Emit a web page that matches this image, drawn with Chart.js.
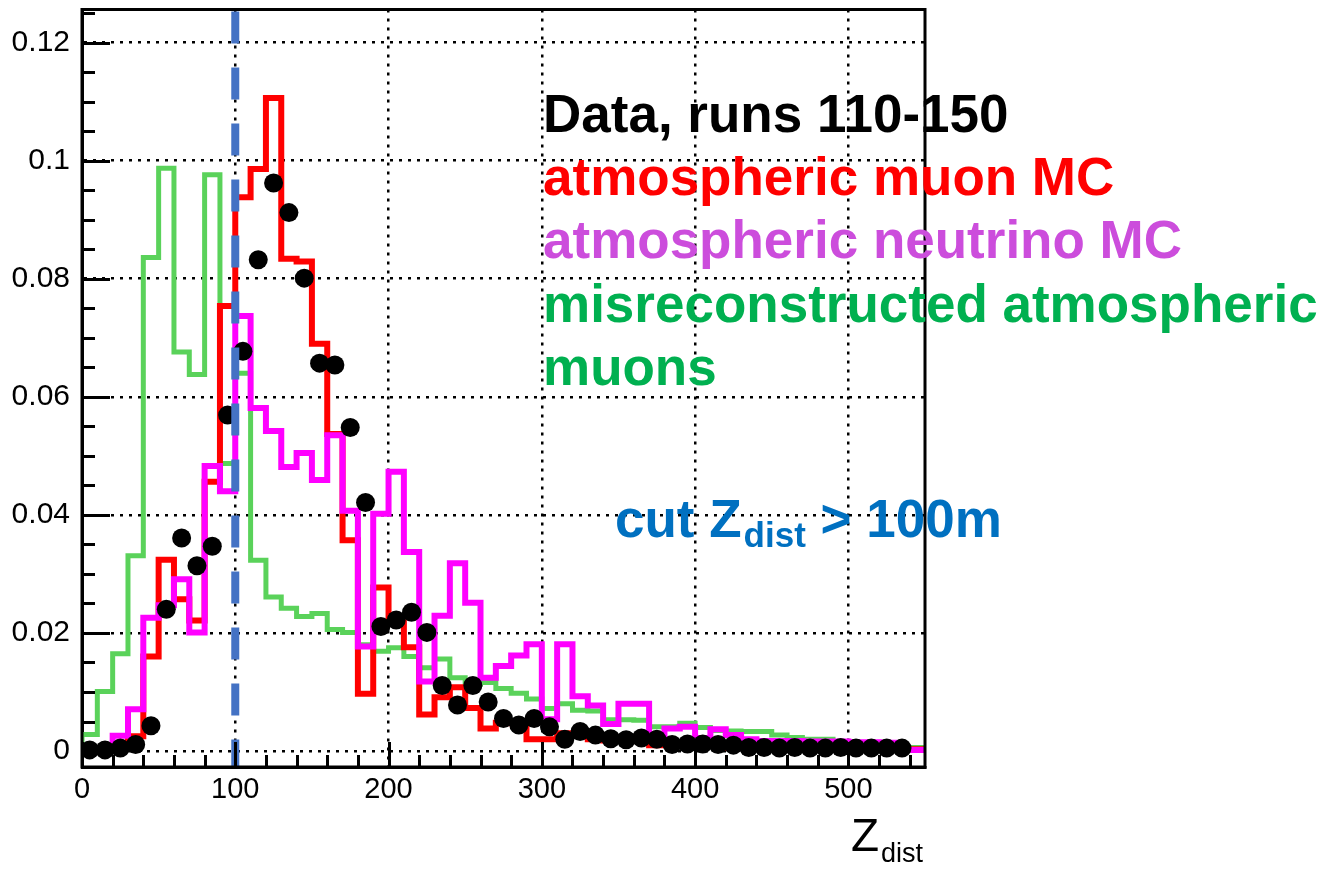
<!DOCTYPE html>
<html>
<head>
<meta charset="utf-8">
<title>Z_dist</title>
<script src="https://cdn.jsdelivr.net/npm/chart.js@4.4.1/dist/chart.umd.min.js"></script>
<style>
  html, body { margin: 0; padding: 0; background: #ffffff; }
  #zdist { display: block; }
</style>
</head>
<body>
<canvas id="zdist" width="1327" height="869"></canvas>
<script>
// histogram bin edges, Z_dist in m
const zEdges = [0, 10, 20, 30, 40, 50, 60, 70, 80, 90, 100, 110, 120, 130, 140, 150, 160, 170, 180, 190,
  200, 210, 220, 230, 240, 250, 260, 270, 280, 290, 300, 310, 320, 330, 340, 350, 360, 370, 380, 390,
  400, 410, 420, 430, 440, 450, 460, 470, 480, 490, 500, 510, 520, 530, 540, 550];

// data, runs 110-150 (normalised)
const dataRuns = [0.0002, 0.0002, 0.0005, 0.0011, 0.0043, 0.0240, 0.0361, 0.0314, 0.0347, 0.0569,
  0.0677, 0.0832, 0.0962, 0.0912, 0.0801, 0.0657, 0.0654, 0.0548, 0.0421, 0.0211,
  0.0222, 0.0235, 0.0201, 0.0111, 0.0078, 0.0111, 0.0083, 0.0055, 0.0044, 0.0055,
  0.0041, 0.0020, 0.0033, 0.0027, 0.0021, 0.0019, 0.0022, 0.0020, 0.0011, 0.0012,
  0.0012, 0.0011, 0.0010, 0.0006, 0.0006, 0.0005, 0.0006, 0.0005, 0.0005, 0.0006,
  0.0005, 0.0005, 0.0005, 0.0005, null];

// atmospheric muon MC
const muonMC = [0.0002, 0.0003, 0.0005, 0.0010, 0.0025, 0.0160, 0.0324, 0.0257, 0.0221, 0.0456,
  0.0754, 0.0938, 0.0986, 0.1106, 0.0834, 0.0829, 0.0690, 0.0537, 0.0357, 0.0097,
  0.0277, 0.0218, 0.0176, 0.0062, 0.0091, 0.0108, 0.0073, 0.0038, 0.0048, 0.0047,
  0.0020, 0.0020, 0.0030, 0.0027, 0.0020, 0.0018, 0.0020, 0.0018, 0.0010, 0.0011,
  0.0011, 0.0010, 0.0009, 0.0006, 0.0006, 0.0006, 0.0006, 0.0006, 0.0006, 0.0006,
  0.0006, 0.0006, 0.0006, 0.0006, 0.0003];

// atmospheric neutrino MC
const neutrinoMC = [0.0002, 0.0003, 0.0005, 0.0026, 0.0071, 0.0226, 0.0247, 0.0291, 0.0201, 0.0483,
  0.0440, 0.0737, 0.0581, 0.0542, 0.0481, 0.0505, 0.0459, 0.0535, 0.0407, 0.0177,
  0.0402, 0.0473, 0.0337, 0.0118, 0.0229, 0.0318, 0.0251, 0.0124, 0.0144, 0.0162,
  0.0181, 0.0054, 0.0181, 0.0093, 0.0077, 0.0046, 0.0080, 0.0080, 0.0020, 0.0038,
  0.0041, 0.0022, 0.0037, 0.0027, 0.0020, 0.0017, 0.0017, 0.0017, 0.0016, 0.0016,
  0.0016, 0.0015, 0.0015, 0.0014, 0.0002];

// misreconstructed atmospheric muons
const misrecoMuons = [0.0003, 0.0028, 0.0101, 0.0165, 0.0331, 0.0836, 0.0987, 0.0676, 0.0638, 0.0976,
  0.0487, 0.0640, 0.0323, 0.0261, 0.0242, 0.0228, 0.0233, 0.0206, 0.0201, 0.0180,
  0.0169, 0.0175, 0.0160, 0.0141, 0.0156, 0.0124, 0.0113, 0.0116, 0.0106, 0.0098,
  0.0088, 0.0072, 0.0080, 0.0069, 0.0068, 0.0053, 0.0053, 0.0052, 0.0041, 0.0041,
  0.0047, 0.0040, 0.0035, 0.0034, 0.0033, 0.0033, 0.0027, 0.0023, 0.0020, 0.0020,
  0.0016, 0.0013, 0.0011, 0.0009, 0.0006];

const cutZ = 100;

const xTickVals = [0, 100, 200, 300, 400, 500];
const xTickLabels = ['0', '100', '200', '300', '400', '500'];
const yTickVals = [0, 0.02, 0.04, 0.06, 0.08, 0.1, 0.12];
const yTickLabels = ['0', '0.02', '0.04', '0.06', '0.08', '0.1', '0.12'];

const legendLines = [
  { text: 'Data, runs 110-150', color: '#000000' },
  { text: 'atmospheric muon MC', color: '#ff0000' },
  { text: 'atmospheric neutrino MC', color: '#cc4ddc' },
  { text: 'misreconstructed atmospheric', color: '#00b050' },
  { text: 'muons', color: '#00b050' }
];

const X_MIN = 0, X_MAX = 550;
const Y_MIN = -0.0027, Y_MAX = 0.1256;
const FONT = '"Liberation Sans", Arial, Helvetica, sans-serif';

// step outline: one point per lower bin edge, plus the last upper edge
function toSteps(values) {
  const pts = values.map((v, i) => ({ x: zEdges[i], y: v }));
  pts.push({ x: zEdges[values.length], y: values[values.length - 1] });
  return pts;
}

function toCentres(values) {
  const pts = [];
  values.forEach((v, i) => {
    if (v !== null) pts.push({ x: (zEdges[i] + zEdges[i + 1]) / 2, y: v });
  });
  return pts;
}

// frame, inward ROOT-style ticks, axis title and the text block
const rootDecor = {
  id: 'rootDecor',
  afterDraw(chart) {
    const ctx = chart.ctx;
    const a = chart.chartArea;
    const xs = chart.scales.x;
    const ys = chart.scales.y;
    ctx.save();

    ctx.strokeStyle = '#000';
    ctx.lineWidth = 3;
    ctx.strokeRect(a.left, a.top, a.right - a.left, a.bottom - a.top);

    ctx.beginPath();
    for (let k = 0; k * 0.005 <= Y_MAX; k++) {
      const py = Math.round(ys.getPixelForValue(k * 0.005)) + 0.5;
      ctx.moveTo(a.left, py);
      ctx.lineTo(a.left + (k % 4 === 0 ? 28 : 13), py);
    }
    for (let k = 0; k * 20 <= X_MAX; k++) {
      const px = Math.round(xs.getPixelForValue(k * 20)) + 0.5;
      ctx.moveTo(px, a.bottom);
      ctx.lineTo(px, a.bottom - (k % 5 === 0 ? 25 : 12));
    }
    ctx.stroke();

    // axis title Z_dist
    ctx.fillStyle = '#000';
    ctx.textBaseline = 'alphabetic';
    ctx.textAlign = 'left';
    ctx.font = '46px ' + FONT;
    ctx.fillText('Z', 851, 851);
    ctx.font = '27px ' + FONT;
    ctx.fillText('dist', 881, 862);

    // legend block
    ctx.font = 'bold 53px ' + FONT;
    const baselines = [132, 195, 258, 322, 385];
    legendLines.forEach((l, i) => {
      ctx.fillStyle = l.color;
      ctx.fillText(l.text, 543, baselines[i]);
    });

    // cut label
    ctx.fillStyle = '#0070c0';
    let x = 615;
    ctx.font = 'bold 53px ' + FONT;
    ctx.fillText('cut Z', x, 537);
    x += ctx.measureText('cut Z').width + 2;
    ctx.font = 'bold 35px ' + FONT;
    ctx.fillText('dist', x, 547);
    x += ctx.measureText('dist').width;
    ctx.font = 'bold 53px ' + FONT;
    ctx.fillText(' > ' + cutZ + 'm', x, 537);

    ctx.restore();
  }
};

Chart.defaults.font.family = FONT;

new Chart(document.getElementById('zdist'), {
  type: 'line',
  data: {
    datasets: [
      {
        label: 'cut',
        data: [{ x: cutZ, y: Y_MAX }, { x: cutZ, y: Y_MIN }],
        borderColor: '#4472c4',
        borderWidth: 8,
        borderDash: [32, 24],
        borderDashOffset: -2,
        borderCapStyle: 'butt',
        pointRadius: 0,
        order: 0
      },
      {
        type: 'scatter',
        label: 'Data, runs 110-150',
        data: toCentres(dataRuns),
        backgroundColor: '#000000',
        borderWidth: 0,
        pointRadius: 9.5,
        showLine: false,
        order: 1
      },
      {
        label: 'atmospheric neutrino MC',
        data: toSteps(neutrinoMC),
        borderColor: '#ff00ff',
        borderWidth: 6,
        stepped: 'after',
        pointRadius: 0,
        order: 2
      },
      {
        label: 'atmospheric muon MC',
        data: toSteps(muonMC),
        borderColor: '#ff0000',
        borderWidth: 6,
        stepped: 'after',
        pointRadius: 0,
        order: 3
      },
      {
        label: 'misreconstructed atmospheric muons',
        data: toSteps(misrecoMuons),
        borderColor: '#5ad25a',
        borderWidth: 5,
        stepped: 'after',
        pointRadius: 0,
        order: 4
      }
    ]
  },
  options: {
    responsive: false,
    animation: false,
    events: [],
    layout: { padding: { top: 6, right: 402, bottom: 0, left: 0 } },
    plugins: {
      legend: { display: false },
      tooltip: { enabled: false },
      title: { display: false }
    },
    scales: {
      x: {
        type: 'linear',
        min: X_MIN,
        max: X_MAX,
        afterBuildTicks: s => { s.ticks = xTickVals.map(v => ({ value: v })); },
        afterFit: s => { s.height = 102; s.paddingLeft = 0; s.paddingRight = 0; },
        grid: { color: '#000', lineWidth: 2.5, drawTicks: false },
        border: { display: true, color: '#000', width: 3, dash: [3, 6] },
        ticks: {
          color: '#000',
          font: { size: 29 },
          padding: 6,
          maxRotation: 0,
          autoSkip: false,
          callback: (v, i) => xTickLabels[i]
        }
      },
      y: {
        type: 'linear',
        min: Y_MIN,
        max: Y_MAX,
        afterBuildTicks: s => { s.ticks = yTickVals.map(v => ({ value: v })); },
        afterFit: s => { s.width = 82; s.paddingTop = 0; s.paddingBottom = 0; },
        grid: { color: '#000', lineWidth: 2.5, drawTicks: false },
        border: { display: true, color: '#000', width: 3, dash: [3, 6] },
        ticks: {
          color: '#000',
          font: { size: 30 },
          padding: 12,
          autoSkip: false,
          callback: (v, i) => yTickLabels[i]
        }
      }
    }
  },
  plugins: [rootDecor]
});
</script>
</body>
</html>
